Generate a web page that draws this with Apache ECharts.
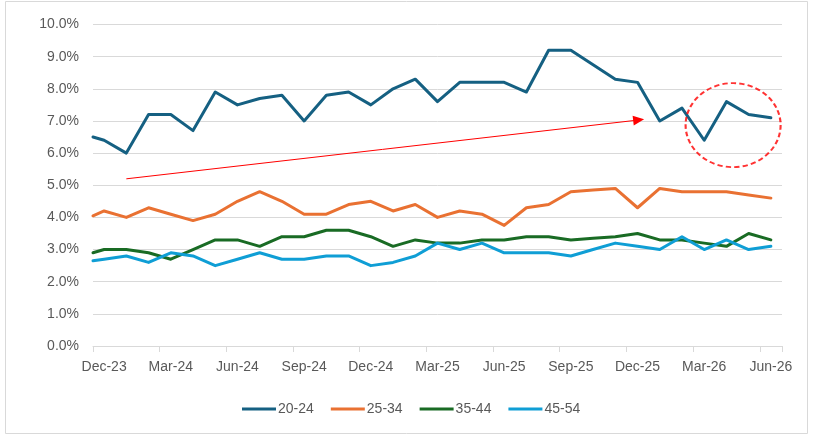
<!DOCTYPE html>
<html>
<head>
<meta charset="utf-8">
<script src="https://cdn.jsdelivr.net/npm/echarts@6/dist/echarts.min.js"></script>
<style>html,body{margin:0;padding:0;background:#fff}#c{width:826px;height:440px}</style>
</head>
<body>
<div id="c"></div>
<script>
// Months Dec-23 .. Jun-26 (label every third)
const categories = ['Dec-23','Jan-24','Feb-24','Mar-24','Apr-24','May-24','Jun-24','Jul-24','Aug-24','Sep-24','Oct-24','Nov-24',
  'Dec-24','Jan-25','Feb-25','Mar-25','Apr-25','May-25','Jun-25','Jul-25','Aug-25','Sep-25','Oct-25','Nov-25',
  'Dec-25','Jan-26','Feb-26','Mar-26','Apr-26','May-26','Jun-26'];
// month offsets of the points (first point sits at the start of Dec-23)
const monthPos = [-0.5].concat(categories.map((_, i) => i));
const seriesNames = ['20-24','25-34','35-44','45-54'];
const s2024 = [6.5,6.4,6.0,7.2,7.2,6.7,7.9,7.5,7.7,7.8,7.0,7.8,7.9,7.5,8.0,8.3,7.6,8.2,8.2,8.2,7.9,9.2,9.2,8.75,8.3,8.2,7.0,7.4,6.4,7.6,7.2,7.1];
const s2534 = [4.05,4.2,4.0,4.3,4.1,3.9,4.1,4.5,4.8,4.5,4.1,4.1,4.4,4.5,4.2,4.4,4.0,4.2,4.1,3.75,4.3,4.4,4.8,4.85,4.9,4.3,4.9,4.8,4.8,4.8,4.7,4.6];
const s3544 = [2.9,3.0,3.0,2.9,2.7,3.0,3.3,3.3,3.1,3.4,3.4,3.6,3.6,3.4,3.1,3.3,3.2,3.2,3.3,3.3,3.4,3.4,3.3,3.35,3.4,3.5,3.3,3.3,3.2,3.1,3.5,3.3];
const s4554 = [2.65,2.7,2.8,2.6,2.9,2.8,2.5,2.7,2.9,2.7,2.7,2.8,2.8,2.5,2.6,2.8,3.2,3.0,3.2,2.9,2.9,2.9,2.8,3.0,3.2,3.1,3.0,3.4,3.0,3.3,3.0,3.1];
const yTicks = [0,1,2,3,4,5,6,7,8,9,10];
// annotations (data units: month offset, percent)
const arrowFrom = [1, 5.2], arrowTo = [24.05, 7.03];
const circleAt = [28.3, 6.87];

const colors = ['#156082','#E97132','#196B24','#0F9ED5'];
const values = [s2024, s2534, s3544, s4554];
const font = '"Liberation Sans", Arial, sans-serif';

const chart = echarts.init(document.getElementById('c'), null, {renderer:'canvas'});
const series = values.map((v, k) => ({
  name: seriesNames[k], type: 'line', xAxisIndex: 1, yAxisIndex: 0,
  data: v.map((y, i) => [monthPos[i], y]),
  symbol: 'none', showSymbol: false,
  lineStyle: {width: 3, color: colors[k], cap: 'round', join: 'round'},
  itemStyle: {color: colors[k]}, z: 3 + k,
  animation: false
}));
series.push({
  type: 'line', xAxisIndex: 1, yAxisIndex: 0, data: [], silent: true, animation: false,
  markLine: {
    silent: true, animation: false,
    symbol: ['none','triangle'], symbolSize: [10, 11],
    label: {show: false},
    lineStyle: {color: '#FF0000', width: 1, type: 'solid'},
    data: [[{coord: arrowFrom}, {coord: arrowTo}]]
  }
});
series.push({
  type: 'scatter', xAxisIndex: 1, yAxisIndex: 0, silent: true, animation: false,
  data: [circleAt], symbol: 'circle', symbolSize: [95, 84], z: 10,
  itemStyle: {color: 'rgba(0,0,0,0)', borderColor: '#FF0000', borderWidth: 2, borderType: [5, 3]}
});

chart.setOption({
  animation: false,
  backgroundColor: '#fff',
  color: colors,
  textStyle: {fontFamily: font},
  grid: {left: 93, right: 44, top: 24.5, bottom: 94, containLabel: false},
  legend: {
    data: seriesNames.map((n, k) => ({name: n, icon: 'rect', itemStyle: {color: colors[k]}})),
    bottom: 19, left: 237, itemWidth: 34, itemHeight: 3, itemGap: 17,
    textStyle: {fontSize: 14, color: '#595959', fontFamily: font, padding: [0,0,0,-3]}
  },
  xAxis: [{
    type: 'category', data: categories, boundaryGap: true,
    axisLine: {show: true, lineStyle: {color: '#d9d9d9', width: 1}},
    axisTick: {show: true, interval: 2, length: 6, lineStyle: {color: '#d9d9d9'}},
    axisLabel: {interval: 2, color: '#595959', fontSize: 14, fontFamily: font, margin: 14},
    splitLine: {show: false}
  }, {
    type: 'value', min: -0.5, max: 30.5, show: false
  }],
  yAxis: [{
    type: 'value', min: yTicks[0], max: yTicks[yTicks.length-1], interval: 1,
    axisLine: {show: false}, axisTick: {show: false},
    axisLabel: {color: '#595959', fontSize: 14, fontFamily: font, margin: 14,
      formatter: v => v.toFixed(1) + '%'},
    splitLine: {lineStyle: {color: '#d9d9d9', width: 1}}
  }],
  graphic: [{
    type: 'rect', shape: {x: 5.5, y: 1.5, width: 802, height: 432}, silent: true,
    style: {fill: 'none', stroke: '#d9d9d9', lineWidth: 1}, z: -1
  }],
  series: series
});
</script>
</body>
</html>
